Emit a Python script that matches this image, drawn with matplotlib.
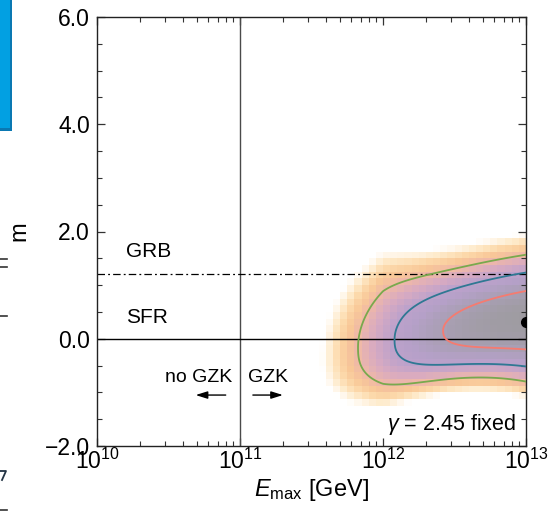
import numpy as np
import matplotlib
matplotlib.use('Agg')
import matplotlib.pyplot as plt
from matplotlib.colors import LinearSegmentedColormap
from matplotlib.patches import Rectangle
from matplotlib.lines import Line2D
from matplotlib.ticker import MultipleLocator, LogLocator, NullFormatter

plt.rcParams['font.family'] = ['Liberation Sans', 'DejaVu Sans']
plt.rcParams['mathtext.fontset'] = 'custom'
plt.rcParams['mathtext.rm'] = 'Liberation Sans'
plt.rcParams['mathtext.it'] = 'Liberation Sans:italic'

# ejes
x_ticks = [1e10, 1e11, 1e12, 1e13]
x_tick_labels = ['$10^{10}$', '$10^{11}$', '$10^{12}$', '$10^{13}$']
y_ticks = [-2.0, 0.0, 2.0, 4.0, 6.0]

# lineas de referencia (m)
m_sfr = 0.0
m_grb = 1.2
e_gzk = 1e11

# mejor ajuste
best_fit_e = 1e13
best_fit_m = 0.32

# niveles de confianza (delta TS) y colores
levels = [2.30, 6.18, 11.83]
level_colors = ['#f57b70', '#2f7893', '#79a94d']

# forma de la superficie de verosimilitud leida de la figura
# u = log10(Emax / 1e13)
ridge_m = [0.40, 0.36, -0.10]            # m del maximo vs u
width_up = [0.343, 0.12]                 # ancho hacia arriba: a + b*u^4
width_down = [0.45, 0.30, 0.29]          # ancho hacia abajo vs u
power_down = 2.5
u_shape = [1.316, 1.65, 6.0]             # centro, escala, potencia en u
u_min_width = -1.0                       # los anchos no crecen mas alla

cmap_ts = [0.0, 2.3, 4.5, 6.5, 9.0, 11.8, 14.0, 16.3, 18.3, 20.2, 21.5]
cmap_cols = ['#9d9b9f', '#a99fb4', '#b5a0c8', '#bda2cb', '#d8aac1', '#efb8a8',
             '#f8c797', '#fcd9ab', '#feebcc', '#fff8ee', '#ffffff']


def delta_ts(log_e, m):
    u = log_e - 13.0
    a = (np.clip(u_shape[0] - u, 0, None) / u_shape[1]) ** u_shape[2]
    mc = ridge_m[0] + ridge_m[1] * u + ridge_m[2] * u ** 2
    d = m - mc
    uw = np.maximum(u, u_min_width)
    s_up = width_up[0] + width_up[1] * uw ** 4
    s_dn = width_down[0] + width_down[1] * uw + width_down[2] * uw ** 2
    tm = np.where(d > 0, (d / s_up) ** 2, (np.abs(d) / s_dn) ** power_down)
    return a + tm


fig = plt.figure(figsize=(5.48, 5.17), dpi=100)
ax = fig.add_axes([97 / 548, 1 - 446 / 517, 429 / 548, 429 / 517])

# mapa pixelado
le_edges = np.arange(10.0, 13.0001, 0.05)
m_edges = np.arange(-2.0, 6.0001, 0.125)
le_c = 0.5 * (le_edges[1:] + le_edges[:-1])
m_c = 0.5 * (m_edges[1:] + m_edges[:-1])
LE, MM = np.meshgrid(le_c, m_c)
ts = delta_ts(LE, MM)
vmax = cmap_ts[-1]
cmap = LinearSegmentedColormap.from_list(
    'ts', list(zip([t / vmax for t in cmap_ts], cmap_cols)))
cmap.set_over('white')
ax.pcolormesh(10 ** le_edges, m_edges, ts, cmap=cmap, vmin=0, vmax=vmax,
              shading='flat', zorder=0, rasterized=True)

# contornos suaves
le_f = np.linspace(10.0, 13.3, 700)
m_f = np.linspace(-2.0, 6.0, 700)
LEf, MMf = np.meshgrid(le_f, m_f)
ax.contour(10 ** LEf, MMf, delta_ts(LEf, MMf), levels=levels,
           colors=level_colors, linewidths=1.3, zorder=3)

ax.axvline(e_gzk, color='#4a4a4a', lw=1.0, zorder=2)
ax.axhline(m_sfr, color='k', lw=1.0, zorder=2)
ax.axhline(m_grb, color='k', lw=0.9, dashes=(6, 2.5, 1.5, 2.5), zorder=2)

ax.plot([best_fit_e], [best_fit_m], 'o', color='k', ms=7, zorder=5)

ax.text(10 ** 10.2, 1.63, 'GRB', fontsize=15, va='center', ha='left')
ax.text(10 ** 10.2, 0.39, 'SFR', fontsize=15, va='center', ha='left')
ax.text(10 ** 10.945, -0.73, 'no GZK', fontsize=14, va='center', ha='right')
ax.text(10 ** 11.055, -0.73, 'GZK', fontsize=14, va='center', ha='left')
ax.annotate('', xy=(10 ** 10.69, -1.05), xytext=(10 ** 10.9, -1.05),
            arrowprops=dict(arrowstyle='-|>,head_length=0.7,head_width=0.22',
                            color='k', lw=1.0, shrinkA=0, shrinkB=0))
ax.annotate('', xy=(10 ** 11.3, -1.05), xytext=(10 ** 11.09, -1.05),
            arrowprops=dict(arrowstyle='-|>,head_length=0.7,head_width=0.22',
                            color='k', lw=1.0, shrinkA=0, shrinkB=0))

ax.text(0.978, 0.022, r'$\gamma$ = 2.45 fixed', transform=ax.transAxes,
        fontsize=15.5, ha='right', va='bottom', zorder=6,
        bbox=dict(fc='white', ec='none', pad=1.5))

ax.set_xscale('log')
ax.set_xlim(1e10, 1e13)
ax.set_ylim(-2, 6)
ax.set_xticks(x_ticks)
ax.set_xticklabels(x_tick_labels)
ax.xaxis.set_minor_locator(LogLocator(base=10, subs=np.arange(2, 10)))
ax.xaxis.set_minor_formatter(NullFormatter())
ax.set_yticks(y_ticks)
ax.set_yticklabels(['%.1f' % v if v >= 0 else '\u2212%.1f' % -v for v in y_ticks])
ax.yaxis.set_minor_locator(MultipleLocator(0.5))
ax.tick_params(which='both', direction='in', top=True, right=True,
               labelsize=16.5, color='#333333')
ax.tick_params(which='major', length=6, width=0.9)
ax.tick_params(which='minor', length=3.5, width=0.8)
ax.tick_params(axis='x', pad=2)
ax.tick_params(axis='y', pad=5)
for s in ax.spines.values():
    s.set_linewidth(1.0)
    s.set_color('#222222')

ax.set_xlabel(r'$E_{\mathrm{max}}$ [GeV]', fontsize=17, labelpad=2)
ax.set_ylabel('m', fontsize=17)
ax.yaxis.set_label_coords(-0.155, 0.5)

# restos del panel vecino
fig.add_artist(Rectangle((0, 1 - 131 / 517), 12 / 548, 131 / 517,
                         transform=fig.transFigure, fc='#0a78b2', ec='none'))
fig.add_artist(Rectangle((0, 1 - 128 / 517), 9.5 / 548, 128 / 517,
                         transform=fig.transFigure, fc='#02a0e2', ec='none'))
for yy in [259, 267, 316, 510]:
    fig.add_artist(Line2D([0, 7 / 548], [1 - yy / 517, 1 - yy / 517],
                          color='#333333', lw=1.2))
fig.add_artist(Line2D([0, 6 / 548, 2 / 548], [1 - 471 / 517, 1 - 471 / 517, 1 - 480 / 517],
                      color='#223344', lw=1.3))

fig.savefig('out.png', dpi=100)
